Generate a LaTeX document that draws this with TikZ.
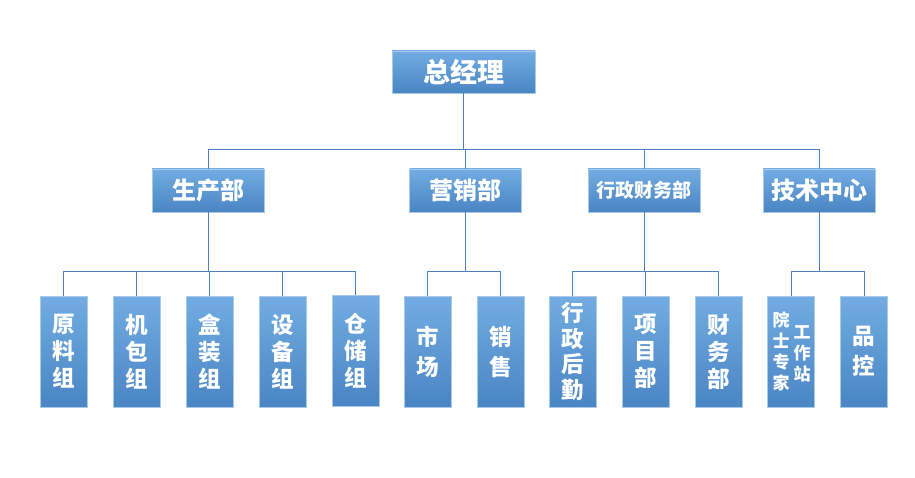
\documentclass[tikz,border=0pt]{standalone}
\usepackage{fontspec}
\newfontfamily\cjk{Noto Sans CJK SC}
\definecolor{boxtop}{HTML}{72ACE2}
\definecolor{boxbot}{HTML}{4A85C4}
\definecolor{boxedge}{HTML}{A9C9E9}
\definecolor{linec}{HTML}{4F81BD}
\begin{document}
\begin{tikzpicture}[x=1pt,y=-1pt,
  box/.style={draw=boxedge,line width=0.8pt,top color=boxtop,bottom color=boxbot,
    text=white,inner sep=0pt,align=center,font=\cjk\bfseries},
  topbox/.style={box,minimum width=143pt,minimum height=42pt,font=\cjk\bfseries\fontsize{27}{30}\selectfont},
  midbox/.style={box,minimum width=112pt,minimum height=43pt,font=\cjk\bfseries\fontsize{24}{28}\selectfont},
  lowbox/.style={box,minimum width=47pt,minimum height=111pt,font=\cjk\bfseries\fontsize{22.5}{27}\selectfont},
  conn/.style={draw=linec,line width=1pt}]
\useasboundingbox (0,0) rectangle (915,478);
\fill[white] (0,0) rectangle (915,478);
% top
\node[topbox] (gm) at (463.5,72) {总经理};
% level 2
\node[midbox] (sc) at (208,190.5) {生产部};
\node[midbox] (yx) at (465.5,190.5) {营销部};
\node[midbox,font=\cjk\bfseries\fontsize{19}{22}\selectfont] (xz) at (644,190.5) {行政财务部};
\node[midbox] (js) at (819,190.5) {技术中心};
% level 3
\node[lowbox] (l1) at (63.5,351.5) {原\\料\\组};
\node[lowbox] (l2) at (136.5,351.5) {机\\包\\组};
\node[lowbox] (l3) at (209.5,351.5) {盒\\装\\组};
\node[lowbox] (l4) at (282.5,351.5) {设\\备\\组};
\node[lowbox] (l5) at (355.5,350.5) {仓\\储\\组};
\node[lowbox,font=\cjk\bfseries\fontsize{22.5}{30}\selectfont] (l6) at (427.5,351.5) {市\\场};
\node[lowbox,font=\cjk\bfseries\fontsize{22.5}{30}\selectfont] (l7) at (500.5,351.5) {销\\售};
\node[lowbox,font=\cjk\bfseries\fontsize{22.5}{25.5}\selectfont] (l8) at (572.5,351.5) {行\\政\\后\\勤};
\node[lowbox] (l9) at (645.5,351.5) {项\\目\\部};
\node[lowbox] (l10) at (718.5,351.5) {财\\务\\部};
\node[lowbox] (l11) at (791,351.5) {};
\node[lowbox,font=\cjk\bfseries\fontsize{22.5}{30}\selectfont] (l12) at (864,351.5) {品\\控};
\node[text=white,font=\cjk\bfseries\fontsize{17}{21}\selectfont,align=center,inner sep=0pt] (ysa) at (781,351.5) {院\\士\\专\\家};
\node[text=white,font=\cjk\bfseries\fontsize{17}{21}\selectfont,align=center,inner sep=0pt] (ysb) at (802,353.5) {工\\作\\站};
% buses
\coordinate (b1) at (0,150);
\coordinate (b2) at (0,271.5);
\foreach \c in {sc,yx,xz,js}{
  \draw[conn] (gm.south) -- (gm.south |- b1) -| (\c.north);
}
\foreach \c in {l1,l2,l3,l4,l5}{
  \draw[conn] (sc.south) -- (sc.south |- b2) -| (\c.north);
}
\foreach \c in {l6,l7}{
  \draw[conn] (yx.south) -- (yx.south |- b2) -| (\c.north);
}
\foreach \c in {l8,l9,l10}{
  \draw[conn] (xz.south) -- (xz.south |- b2) -| (\c.north);
}
\foreach \c in {l11,l12}{
  \draw[conn] (js.south) -- (js.south |- b2) -| (\c.north);
}
\end{tikzpicture}
\end{document}
